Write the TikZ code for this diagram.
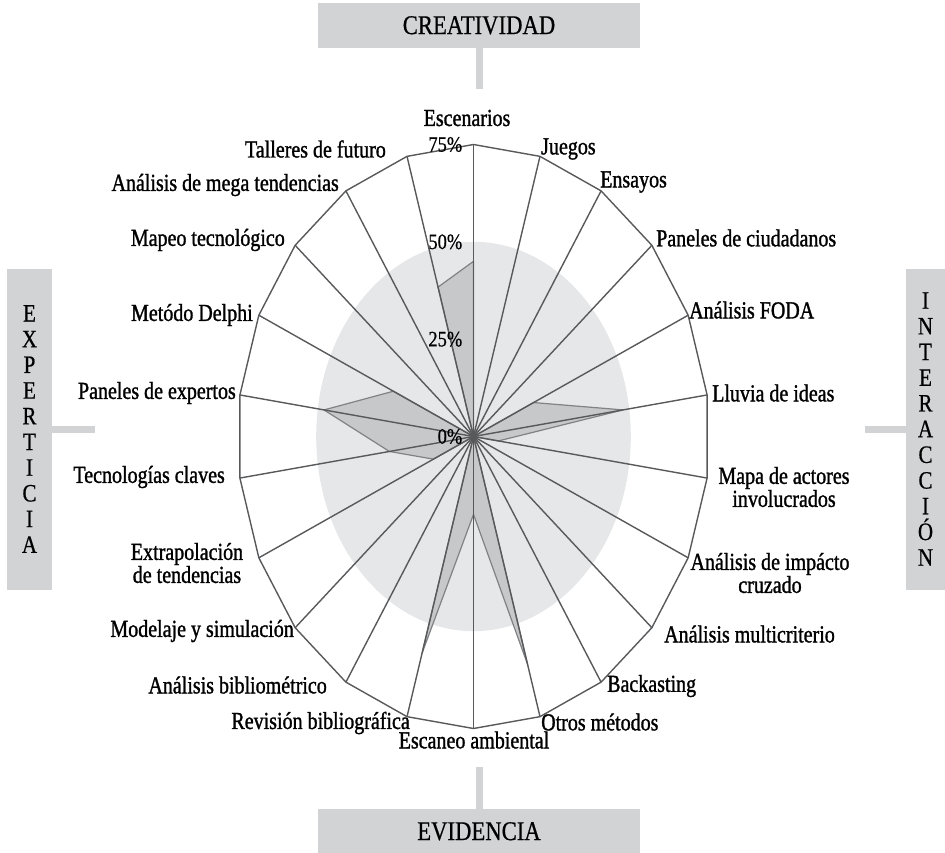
\documentclass[tikz,border=0pt]{standalone}
\usepackage{fontspec}
\setmainfont{Liberation Serif}
\newfontfamily\tallfont{Liberation Serif}[FakeStretch=0.82, FakeBold=1.2]
\newfontfamily\tallplain{Liberation Serif}[FakeStretch=0.84, FakeBold=0.6]
\newcommand\tightskip{\lineskiplimit=-20pt\relax}
\usetikzlibrary{positioning}
\definecolor{boxgray}{RGB}{209,211,212}
\definecolor{discgray}{RGB}{230,231,232}
\definecolor{datagray}{RGB}{199,200,202}
\definecolor{edgegray}{RGB}{128,130,133}
\definecolor{linegray}{RGB}{88,89,91}
\tikzset{
  axisbox/.style={fill=boxgray, inner sep=0pt, minimum width=322pt, minimum height=44.6pt, font=\tallplain\fontsize{27}{27}\selectfont},
  sidebox/.style={fill=boxgray, inner sep=0pt, align=center, minimum height=321pt, font=\tallplain\fontsize{25}{25.7}\selectfont\tightskip},
  stem/.style={boxgray, line width=7pt},
  method/.style={inner sep=0pt, font=\tallfont\fontsize{24.4}{23}\selectfont\tightskip},
  pct/.style={inner sep=0pt, anchor=east, xshift=-11pt, font=\tallplain\fontsize{22}{22}\selectfont},
  spoke/.style={linegray, line width=1.4pt},
}

\begin{document}
\begin{tikzpicture}[x=1pt,y=-1pt]
		\useasboundingbox (0,0) rectangle (945,852);
		
		%----------------------------------------------------------------
		\node(creat) [axisbox] at (479,25.3) {CREATIVIDAD};
		\node(evid) [axisbox] at (479,831.3) {EVIDENCIA};
		\node(expert) [sidebox, minimum width=45pt] at (29.5,429) {E\\X\\P\\E\\R\\T\\I\\C\\I\\A};
		\node(inter) [sidebox, minimum width=39pt] at (925.5,429) {I\\N\\T\\E\\R\\A\\C\\C\\I\\Ó\\N};
		
		\coordinate (creat-end) at (479,89);
		\coordinate (evid-end) at (479,767);
		\coordinate (expert-end) at (95,429);
		\coordinate (inter-end) at (865,429);
		\draw [stem] (creat) -- (creat-end);
		\draw [stem] (evid) -- (evid-end);
		\draw [stem] (expert) -- (expert-end);
		\draw [stem] (inter) -- (inter-end);
		
		%----------------------------------------------------------------
		\coordinate (c) at (473.5,436.5);
		\begin{scope}[shift={(c)}, x=236pt, y=292pt]
			\fill [discgray] (0,0) ellipse [x radius=157.3pt, y radius=194.7pt];
			
			\draw [fill=datagray, draw=edgegray, line width=1.2pt, line join=round] (90:{45/75})
			\foreach \v [count=\k] in {0,0,0,21,48,8,0,0,0,61,20,58,0,0,14,27,48,28,0,0,40} {
				-- ({90-\k*360/22}:{\v/75})
			} -- cycle;
			
			\foreach \k in {0,...,21}
			\draw [spoke] (0,0) -- ({90-\k*360/22}:1);
			\draw [spoke, line join=round] (90:1) \foreach \k in {1,...,21} { -- ({90-\k*360/22}:1) } -- cycle;
			
			\node(p75) [pct] at (0,1) {75\%};
			\node(p50) [pct] at (0,2/3) {50\%};
			\node(p25) [pct] at (0,1/3) {25\%};
			\node(p0) [pct] at (0,0) {0\%};
		\end{scope}
		
		%----------------------------------------------------------------
		\node(esc) [method] at (467,118) {Escenarios};
		\node(jue) [method, anchor=west] at (541,149) {Juegos};
		\node(ens) [method, anchor=west] at (600,182) {Ensayos};
		\node(pciu) [method, anchor=west] at (656,238) {Paneles de ciudadanos};
		\node(foda) [method, anchor=west] at (689,310) {Análisis FODA};
		\node(lluvia) [method, anchor=west] at (712,393) {Lluvia de ideas};
		\node(mapa) [method, align=center] at (784,487) {Mapa de actores\\involucrados};
		\node(impacto) [method, align=center] at (770,573) {Análisis de impácto\\cruzado};
		\node(multi) [method, anchor=west] at (664,634) {Análisis multicriterio};
		\node(back) [method, anchor=west] at (607,686) {Backasting};
		\node(otros) [method, anchor=west] at (541,722) {Otros métodos};
		\node(scan) [method] at (474,740) {Escaneo ambiental};
		\node(rev) [method, anchor=east] at (410,723) {Revisión bibliográfica};
		\node(biblio) [method, anchor=east] at (327,685) {Análisis bibliométrico};
		\node(model) [method, anchor=east] at (294,631) {Modelaje y simulación};
		\node(extra) [method, align=center] at (187,563) {Extrapolación\\de tendencias};
		\node(tec) [method, anchor=east] at (225,477) {Tecnologías claves};
		\node(pexp) [method, anchor=east] at (236,393) {Paneles de expertos};
		\node(delphi) [method, anchor=east] at (253,315) {Metódo Delphi};
		\node(mapeo) [method, anchor=east] at (285,240) {Mapeo tecnológico};
		\node(mega) [method, anchor=east] at (339,185) {Análisis de mega tendencias};
		\node(talleres) [method, anchor=east] at (386,149) {Talleres de futuro};
		
	\end{tikzpicture}
\end{document}
